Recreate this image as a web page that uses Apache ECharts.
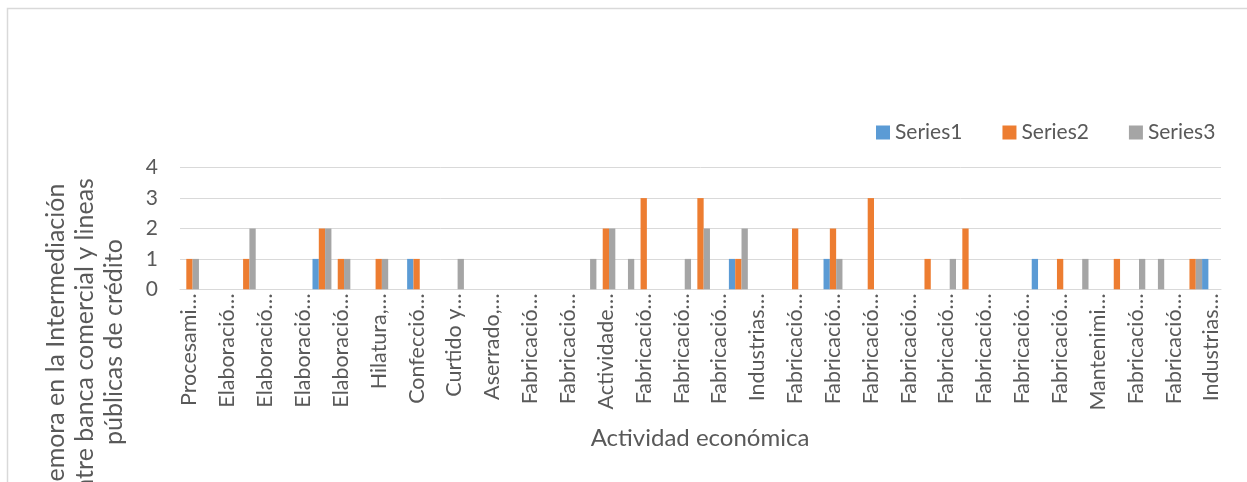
<!DOCTYPE html>
<html>
<head>
<meta charset="utf-8">
<script src="https://cdn.jsdelivr.net/npm/echarts@6/dist/echarts.min.js"></script>
<style>
html,body{margin:0;padding:0;background:#fff;}
#chart{width:1247px;height:482px;}
</style>
</head>
<body>
<div id="chart"></div>
<script>
// Categories (55); only every other label is shown in the chart
const categories = [
  "Procesami…","Conservació…","Elaboració…","Elaboració…","Elaboració…","Elaboració…","Elaboració…","Elaboració…","Elaboració…","Elaboració…",
  "Hilatura,…","Fabricació…","Confecció…","Fabricació…","Curtido y…","Fabricació…","Aserrado,…","Fabricació…","Fabricació…","Impresión…",
  "Fabricació…","Fabricació…","Actividade…","Fabricació…","Fabricació…","Fabricació…","Fabricació…","Fabricació…","Fabricació…","Fabricació…",
  "Industrias…","Fabricació…","Fabricació…","Fabricació…","Fabricació…","Fabricació…","Fabricació…","Fabricació…","Fabricació…","Fabricació…",
  "Fabricació…","Fabricació…","Fabricació…","Fabricació…","Fabricació…","Fabricació…","Fabricació…","Fabricació…","Mantenimi…","Fabricació…",
  "Fabricació…","Fabricació…","Fabricació…","Fabricació…","Industrias…"
];
const series1 = [0,0,0,0,0,0,0,1,0,0, 0,0,1,0,0,0,0,0,0,0, 0,0,0,0,0,0,0,0,0,1, 0,0,0,0,1,0,0,0,0,0, 0,0,0,0,0,1,0,0,0,0, 0,0,0,0,1];
const series2 = [1,0,0,1,0,0,0,2,1,0, 1,0,1,0,0,0,0,0,0,0, 0,0,2,0,3,0,0,3,0,1, 0,0,2,0,2,0,3,0,0,1, 0,2,0,0,0,0,1,0,0,1, 0,0,0,1,0];
const series3 = [1,0,0,2,0,0,0,2,1,0, 1,0,0,0,1,0,0,0,0,0, 0,1,2,1,0,0,1,2,0,2, 0,0,0,0,1,0,0,0,0,0, 1,0,0,0,0,0,0,1,0,0, 1,1,0,1,0];
const seriesNames = ["Series1","Series2","Series3"];
const yTicks = [0,1,2,3,4];
const xTitle = "Actividad económica";
const yTitle = "Demora en la Intermediación\nentre banca comercial y lineas\npúblicas de crédito";

const FONT = "Lato";
const TXT = "#595959";
const chart = echarts.init(document.getElementById('chart'), null, {renderer:'canvas'});
const colors = ["#5B9BD5","#ED7D31","#A5A5A5"];
const data = [series1, series2, series3];

chart.setOption({
  animation:false,
  color: colors,
  textStyle:{fontFamily:FONT},
  legend:{
    data: seriesNames,
    left: 871, top: 117,
    icon:'rect', itemWidth:14, itemHeight:14, itemGap:40,
    textStyle:{color:TXT, fontSize:21, fontFamily:FONT}
  },
  grid:{left:180, right:26, top:167.7, bottom:192.7, containLabel:false},
  xAxis:{
    type:'category',
    data: categories,
    axisLine:{lineStyle:{color:'#d9d9d9', width:1}},
    axisTick:{show:false},
    axisLabel:{rotate:90, interval:1, color:TXT, fontSize:21.5, fontFamily:FONT, margin:4}
  },
  yAxis:{
    type:'value', min:yTicks[0], max:yTicks[yTicks.length-1], interval:1,
    axisLine:{show:false}, axisTick:{show:false},
    splitLine:{lineStyle:{color:'#d9d9d9', width:1}},
    axisLabel:{color:TXT, fontSize:21, fontFamily:FONT, margin:22}
  },
  graphic:[
    {type:'rect', z:-1, shape:{x:7.5,y:8.5,width:1400,height:600}, style:{fill:'none', stroke:'#d9d9d9', lineWidth:1.5}},
    {type:'text', x:700, y:438, style:{text:xTitle, fill:TXT, font:'24px '+FONT, textAlign:'center', textVerticalAlign:'middle'}},
    {type:'text', x:85, y:342, rotation:Math.PI/2, style:{text:yTitle, fill:TXT, font:'25px '+FONT, textAlign:'center', textVerticalAlign:'middle', lineHeight:29}}
  ],
  series: seriesNames.map((n,i)=>({
    name:n, type:'bar', data:data[i], barGap:'0%', barCategoryGap:'0%'
  }))
});
</script>
</body>
</html>
